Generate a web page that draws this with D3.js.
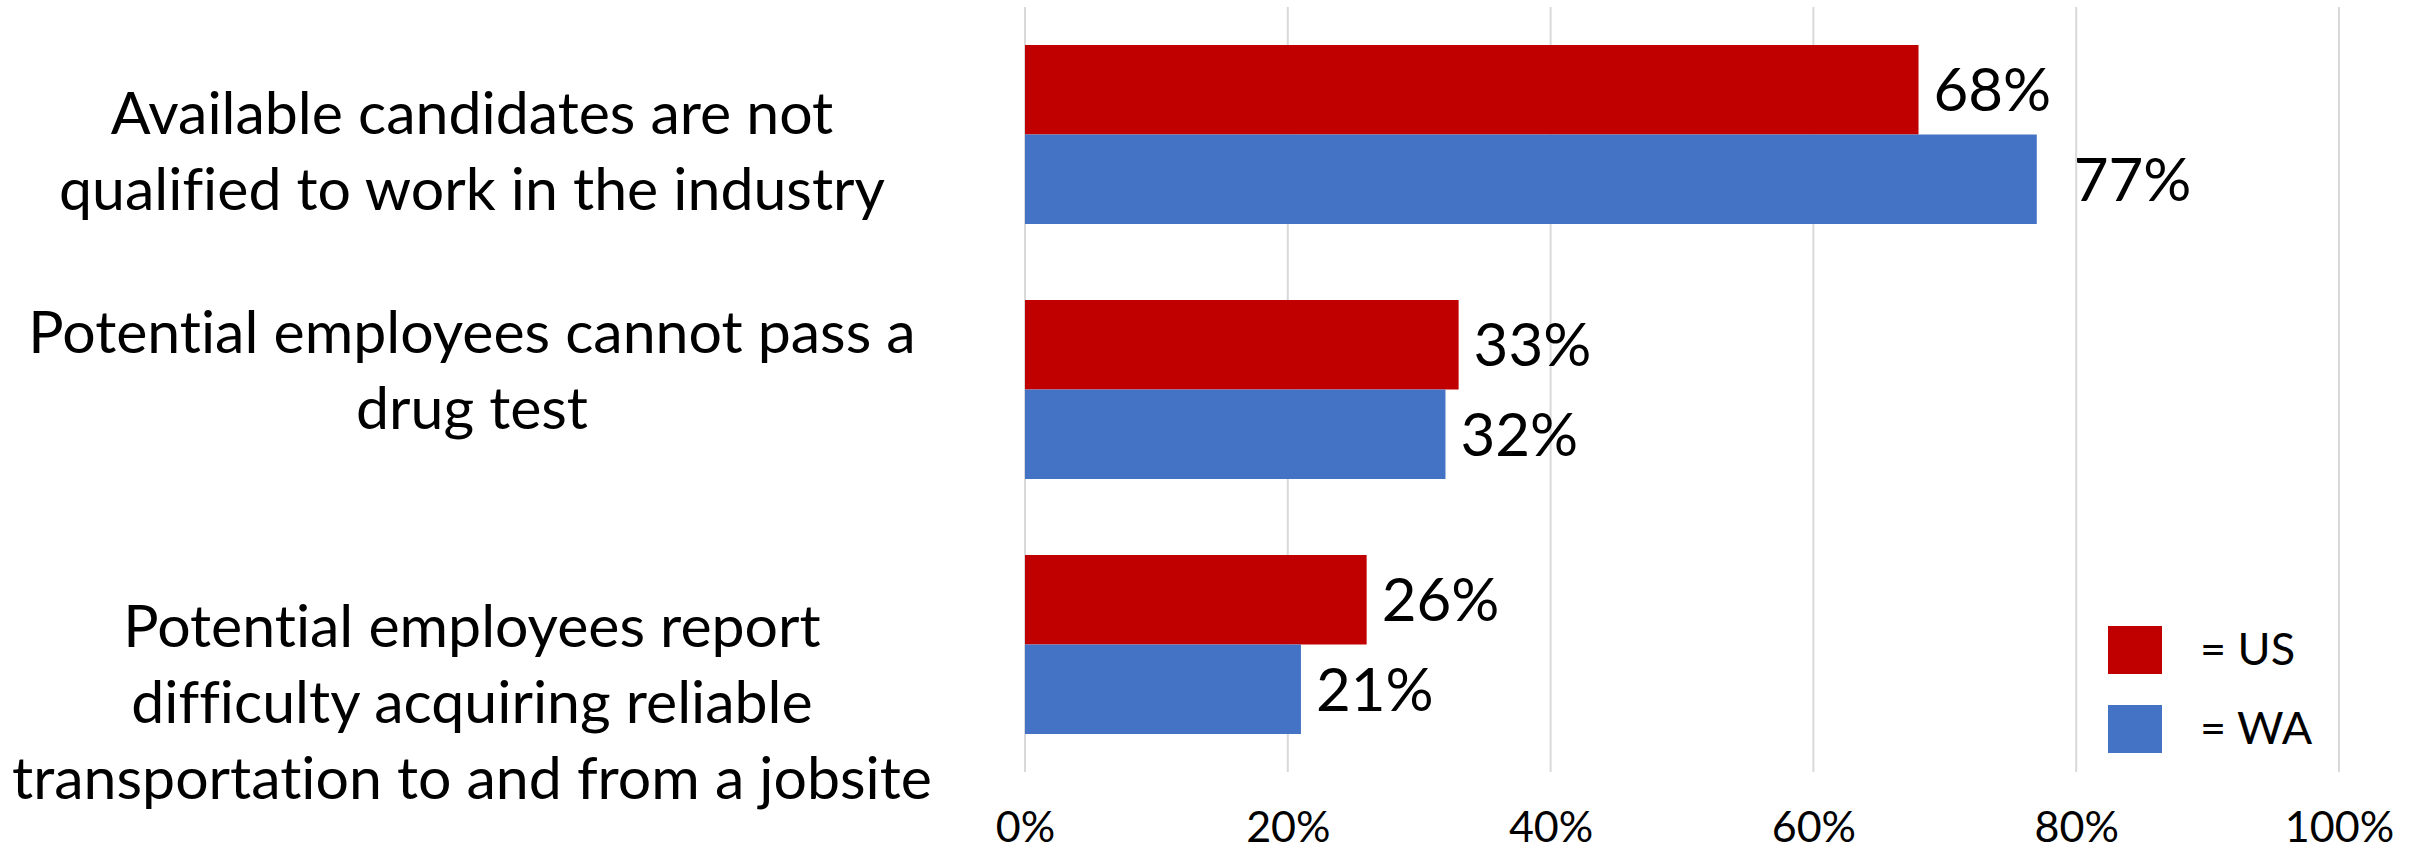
<!DOCTYPE html>
<html>
<head>
<meta charset="utf-8">
<script src="https://cdn.jsdelivr.net/npm/d3@7"></script>
<style>
  html, body { margin: 0; padding: 0; background: #ffffff; }
  svg { display: block; }
  text { font-family: Lato, "Noto Sans", sans-serif; fill: #000; font-variant-ligatures: none; }
</style>
</head>
<body>
<svg id="chart" width="2422" height="854"></svg>
<script>
// Survey results: share of respondents citing each hiring barrier
const categories = [
  "Available candidates are not qualified to work in the industry",
  "Potential employees cannot pass a drug test",
  "Potential employees report difficulty acquiring reliable transportation to and from a jobsite"
];
const categoryLines = [
  ["Available candidates are not", "qualified to work in the industry"],
  ["Potential employees cannot pass a", "drug test"],
  ["Potential employees report", "difficulty acquiring reliable", "transportation to and from a jobsite"]
];
const seriesNames = ["US", "WA"];
const usValues = [68, 33, 26];
const waValues = [77, 32, 21];
const tickValues = [0, 20, 40, 60, 80, 100];
const legendLabels = ["= US", "= WA"];

const colors = { US: "#C00000", WA: "#4472C4" };
const rows = categories.map((c, i) => ({ category: c, US: usValues[i], WA: waValues[i] }));

const svg = d3.select("#chart");
const plot = { left: 1025, right: 2339, top: 7, bottom: 772 };

const x = d3.scaleLinear().domain([0, 100]).range([plot.left, plot.right]);
const y = d3.scaleBand().domain(categories).range([plot.top, plot.bottom])
  .paddingInner(0.298).paddingOuter(0.149);
const ySeries = d3.scaleBand().domain(seriesNames).range([0, y.bandwidth()]);

// vertical gridlines
svg.append("g")
  .selectAll("line")
  .data(tickValues)
  .join("line")
  .attr("x1", d => x(d)).attr("x2", d => x(d))
  .attr("y1", plot.top).attr("y2", plot.bottom)
  .attr("stroke", "#d9d9d9").attr("stroke-width", 2);

// bottom axis labels
const xAxis = d3.axisBottom(x).tickValues(tickValues).tickSize(0).tickPadding(0)
  .tickFormat(d => d + "%");
const axisG = svg.append("g").attr("transform", `translate(0, ${plot.bottom})`).call(xAxis);
axisG.select(".domain").remove();
axisG.selectAll("text")
  .attr("y", 0).attr("dy", 0)
  .attr("transform", "translate(0, 70)")
  .style("font-size", "43px")
  .style("font-family", null);

// bars
const groups = svg.append("g").selectAll("g")
  .data(rows)
  .join("g")
  .attr("transform", d => `translate(0, ${y(d.category)})`);

groups.selectAll("rect")
  .data(d => seriesNames.map(s => ({ series: s, value: d[s] })))
  .join("rect")
  .attr("x", x(0))
  .attr("y", d => ySeries(d.series))
  .attr("width", d => x(d.value) - x(0))
  .attr("height", ySeries.bandwidth())
  .attr("fill", d => colors[d.series]);

// value labels at the bar ends
const labelNudge = (ci, s) => (ci === 0 && s === "WA" ? 22 : 0);
groups.each(function (d, ci) {
  d3.select(this).selectAll("text.value")
    .data(seriesNames.map(s => ({ series: s, value: d[s] })))
    .join("text")
    .attr("class", "value")
    .attr("x", v => x(v.value) + 15 + labelNudge(ci, v.series))
    .attr("y", v => ySeries(v.series) + ySeries.bandwidth() / 2)
    .attr("dy", "0.36em")
    .style("font-size", "60px")
    .text(v => v.value + "%");
});

// category labels on the left
const labelShift = [-1, -37, 2];
const lineHeight = 76;
const catG = svg.append("g");
categories.forEach((c, i) => {
  const cy = y(c) + y.bandwidth() / 2;
  const t = catG.append("text")
    .attr("text-anchor", "middle")
    .style("font-size", "59px");
  categoryLines[i].forEach((line, k) => {
    t.append("tspan")
      .attr("x", 472)
      .attr("y", cy + labelShift[i] + k * lineHeight)
      .text(line);
  });
});

// legend
const legend = svg.append("g").attr("transform", "translate(2108, 626)");
seriesNames.forEach((s, i) => {
  legend.append("rect")
    .attr("x", 0).attr("y", i * 79)
    .attr("width", 54).attr("height", 48)
    .attr("fill", colors[s]);
  legend.append("text")
    .attr("x", 92).attr("y", i * 79 + 39)
    .style("font-size", "45px")
    .text(legendLabels[i]);
});
</script>
</body>
</html>
